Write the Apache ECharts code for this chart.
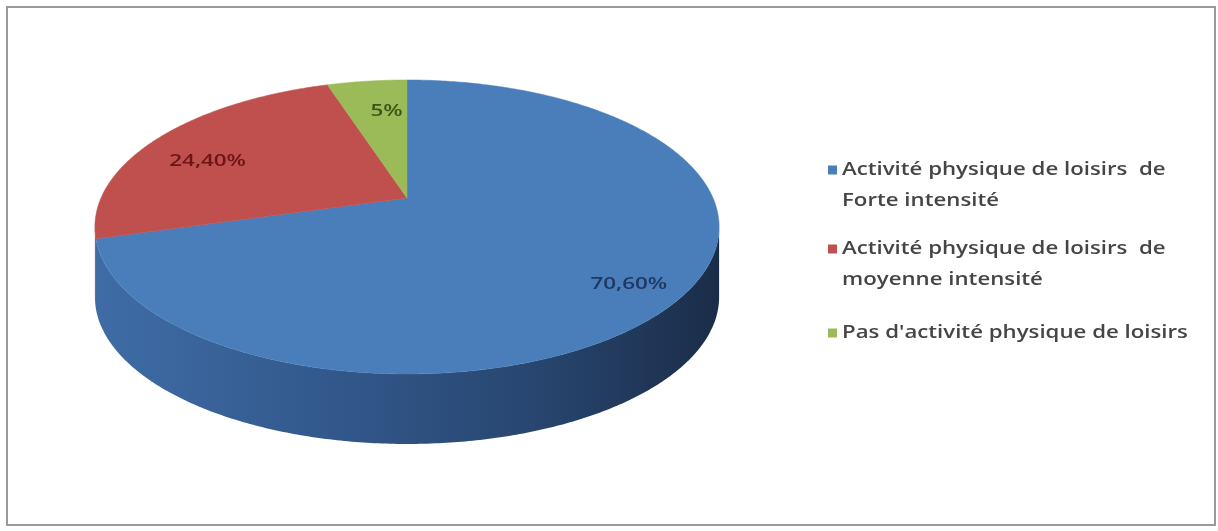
<!DOCTYPE html>
<html>
<head>
<meta charset="utf-8">
<script src="https://cdn.jsdelivr.net/npm/echarts@6/dist/echarts.min.js"></script>
<style>
  html, body { margin: 0; padding: 0; background: #ffffff; }
  #chart { width: 1218px; height: 531px; }
</style>
</head>
<body>
<div id="chart"></div>
<script>
// Leisure physical activity levels (share of respondents, %)
const categories = [
  'Activité physique de loisirs  de Forte intensité',
  'Activité physique de loisirs  de moyenne intensité',
  "Pas d'activité physique de loisirs"
];
const legendLines = [
  ['Activité physique de loisirs  de', 'Forte intensité'],
  ['Activité physique de loisirs  de', 'moyenne intensité'],
  ["Pas d'activité physique de loisirs"]
];
const shares = [70.6, 24.4, 5];

// Styling
const topColors = ['#4a7ebb', '#c0504d', '#9bbb59'];
const sideStops = [
  [[0, '#3f6ca6'], [0.35, '#335a8e'], [0.7, '#284670'], [1, '#1a2d48']],
  [[0, '#a94643'], [1, '#7a2f2d']],
  [[0, '#87a34c'], [1, '#5f7535']]
];
const labelColors = ['#1f3763', '#6a1613', '#3b5419'];
const labelRadius = [0.82, 0.78, 0.7];
const labelShift = [[0, 9], [-3, 12], [9, -1]];

// Tilted-disc projection (perspective view of a flat pie)
const geo = { cx: 407, cy: 198, A: 306, B: 141.3, k: 0.197, depth: 70 };

function project(theta, f, dy) {
  const s = Math.sin(theta), c = Math.cos(theta);
  const w = 1 + geo.k * f * c;
  return [geo.cx + geo.A * f * s / w, geo.cy - geo.B * f * c / w + (dy || 0)];
}

function rimPoints(a0, a1, dy) {
  const pts = [];
  const n = Math.max(2, Math.ceil(Math.abs(a1 - a0) / 0.01));
  for (let i = 0; i <= n; i++) {
    pts.push(project(a0 + (a1 - a0) * i / n, 1, dy));
  }
  return pts;
}

function fmtShare(v) {
  return (Number.isInteger(v) ? String(v) : v.toFixed(2).replace('.', ',')) + '%';
}

// Cumulative start/end of each slice, as fractions of the whole
const total = shares.reduce((a, b) => a + b, 0);
let acc = 0;
const sliceData = shares.map((v, i) => {
  const start = acc / total;
  acc += v;
  return { name: categories[i], value: [start, acc / total, v] };
});

// Front half of the rim that shows the disc's thickness
const sideFrom = Math.acos(-geo.k);
const sideTo = 2 * Math.PI - sideFrom;

function renderSlice(params, api) {
  const i = params.dataIndex;
  const a0 = api.value(0) * 2 * Math.PI;
  const a1 = api.value(1) * 2 * Math.PI;
  const v = api.value(2);
  const children = [];

  const s0 = Math.max(a0, sideFrom), s1 = Math.min(a1, sideTo);
  if (s1 > s0) {
    const upper = rimPoints(s0, s1, 0);
    const lower = rimPoints(s1, s0, geo.depth);
    children.push({
      type: 'polygon',
      shape: { points: upper.concat(lower) },
      style: {
        fill: new echarts.graphic.LinearGradient(95, 0, 720, 0,
          sideStops[i].map(s => ({ offset: s[0], color: s[1] })), true)
      },
      z2: 1
    });
  }

  children.push({
    type: 'polygon',
    shape: { points: [[geo.cx, geo.cy]].concat(rimPoints(a0, a1, 0)) },
    style: { fill: topColors[i], stroke: topColors[i], lineWidth: 0.5 },
    z2: 2
  });

  const mid = (a0 + a1) / 2;
  const lp = project(mid, labelRadius[i], 0);
  children.push({
    type: 'text',
    x: lp[0] + labelShift[i][0], y: lp[1] + labelShift[i][1],
    scaleX: 1.4,
    style: {
      text: fmtShare(v),
      x: 0, y: 0,
      align: 'center', verticalAlign: 'middle',
      fontFamily: 'Open Sans', fontSize: 16, fontWeight: 600,
      fill: labelColors[i]
    },
    z2: 3
  });

  return { type: 'group', children };
}

// Legend entries: swatch + wrapped label
const legendX = 828, textX = 842, lineGap = 31;
const legendTops = [170, 249, 333];
const legendGraphics = [];
legendLines.forEach((lines, i) => {
  legendGraphics.push({
    type: 'rect', shape: { x: legendX, y: legendTops[i] - 4.5, width: 9, height: 9 },
    style: { fill: topColors[i] }
  });
  lines.forEach((t, j) => {
    legendGraphics.push({
      type: 'text', x: textX, y: legendTops[i] + j * lineGap,
      scaleX: 1.27,
      style: {
        text: t, x: 0, y: 0, align: 'left', verticalAlign: 'middle',
        fontFamily: 'Open Sans', fontSize: 17.5, fontWeight: 600, fill: '#454545'
      }
    });
  });
});

const chart = echarts.init(document.getElementById('chart'), null, { renderer: 'canvas' });
chart.setOption({
  backgroundColor: '#ffffff',
  animation: false,
  graphic: [
    {
      type: 'rect', shape: { x: 7, y: 7, width: 1208, height: 518 },
      style: { fill: 'none', stroke: '#9a9a9a', lineWidth: 2 }
    }
  ].concat(legendGraphics),
  series: [{
    type: 'custom',
    name: 'Activité physique de loisirs',
    coordinateSystem: 'none',
    renderItem: renderSlice,
    data: sliceData
  }]
});
</script>
</body>
</html>
